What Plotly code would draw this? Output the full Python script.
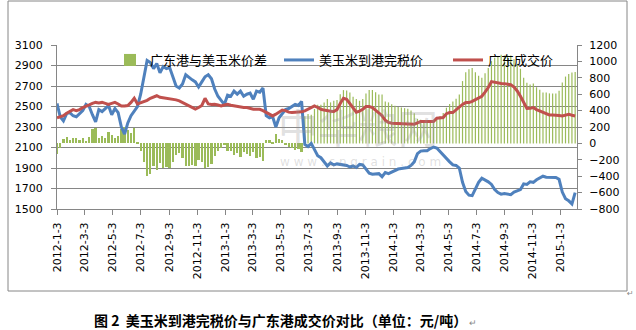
import pandas as pd
import plotly.graph_objects as go

# Weekly readings, first week 2012-01-03
us_corn = [
    2530, 2400, 2360, 2430, 2440, 2410, 2400, 2430, 2460, 2520,
    2500, 2420, 2350, 2470, 2450, 2480, 2510, 2420, 2480, 2440,
    2300, 2230, 2340, 2410, 2450, 2500, 2620, 2780, 2950, 2930,
    2870, 2920, 2830, 2890, 2870, 2880, 2800, 2700, 2680, 2720,
    2810, 2780, 2760, 2740, 2690, 2740, 2790, 2810, 2770, 2670,
    2600, 2560, 2520, 2610, 2600, 2650, 2620, 2650, 2600, 2620,
    2630, 2570, 2650, 2640, 2680, 2410, 2390, 2400, 2300, 2390,
    2430, 2470, 2480, 2500, 2520, 2510, 2550, 2130, 2110, 2140,
    2080, 2020, 2000, 1960, 1920, 1950, 1930, 1940, 1935, 1930,
    1925, 1910, 1920, 1905, 1935, 1930, 1890, 1850, 1840, 1840,
    1845, 1815, 1855, 1845, 1860, 1875, 1890, 1895, 1900, 1905,
    1925, 1960, 2040, 2065, 2068, 2068, 2090, 2105, 2095, 2060,
    2020, 1995, 1960, 1930, 1925, 1900, 1760, 1670, 1635, 1630,
    1700, 1760, 1800, 1785, 1765, 1740, 1690, 1660, 1645, 1650,
    1645, 1640, 1665, 1680, 1690, 1745, 1740, 1765, 1760, 1785,
    1800, 1820, 1810, 1808, 1808, 1808, 1790, 1665, 1600, 1580,
    1550, 1660,
]

guangdong = [
    2390, 2400, 2410, 2435, 2450, 2470, 2460, 2470, 2490, 2500,
    2515, 2530, 2540, 2535, 2540, 2530, 2520, 2530, 2540, 2525,
    2505, 2505, 2510, 2540, 2580, 2525, 2535, 2550, 2560, 2580,
    2595, 2605, 2590, 2585, 2580, 2578, 2572, 2565, 2555, 2540,
    2525, 2510, 2495, 2475, 2490, 2510, 2580, 2525, 2520, 2522,
    2515, 2506, 2515, 2522, 2512, 2506, 2498, 2490, 2490, 2490,
    2482, 2473, 2473, 2473, 2460, 2445, 2425, 2408, 2425, 2441,
    2465, 2460, 2445, 2441, 2441, 2441, 2448, 2457, 2475, 2490,
    2506, 2490, 2473, 2465, 2457, 2453, 2451, 2470, 2530, 2580,
    2570, 2530, 2490, 2445, 2455, 2473, 2500, 2500, 2490, 2465,
    2440, 2410, 2365, 2345, 2336, 2334, 2334, 2334, 2330, 2327,
    2327, 2327, 2340, 2353, 2353, 2353, 2353, 2353, 2386, 2390,
    2392, 2430, 2441, 2441, 2470, 2495, 2520, 2538, 2538, 2550,
    2568, 2585, 2600, 2640, 2685, 2743, 2735, 2727, 2725, 2723,
    2718, 2712, 2690, 2652, 2600, 2545, 2480, 2482, 2490, 2470,
    2455, 2441, 2430, 2418, 2418, 2418, 2412, 2408, 2415, 2425,
    2415, 2408,
]

spread = [
    -130, -60, 50, 80, 40, 60, 60, 40, 70, 30,
    80, 180, 190, 70, 90, 60, 140, 100, 60, 90,
    180, 200, 160, 130, 190, 20, -90, -230, -400, -370,
    -280, -320, -240, -300, -290, -300, -230, -140, -120, -180,
    -280, -270, -260, -270, -200, -230, -300, -290, -250, -150,
    -90, -60, -20, -90, -90, -140, -120, -160, -110, -130,
    -150, -100, -180, -170, -220, 40, 40, 10, 120, 50,
    40, -10, -40, -60, -80, -70, -100, 330, 360, 350,
    420, 470, 470, 500, 540, 500, 520, 530, 600, 650,
    645, 620, 570, 540, 520, 540, 610, 650, 650, 625,
    595, 595, 510, 500, 476, 459, 444, 439, 430, 422,
    402, 367, 300, 288, 285, 285, 263, 248, 291, 330,
    372, 435, 481, 511, 545, 595, 760, 868, 903, 920,
    868, 825, 800, 855, 920, 1003, 1045, 1067, 1080, 1073,
    1073, 1072, 1025, 972, 910, 800, 740, 717, 730, 685,
    655, 621, 620, 610, 610, 610, 642, 743, 815, 845,
    865, 870,
]

tick_dates = [
    "2012-01-03", "2012-03-03", "2012-05-03", "2012-07-03", "2012-09-03", "2012-11-03",
    "2013-01-03", "2013-03-03", "2013-05-03", "2013-07-03", "2013-09-03", "2013-11-03",
    "2014-01-03", "2014-03-03", "2014-05-03", "2014-07-03", "2014-09-03", "2014-11-03",
    "2015-01-03",
]
tick_labels = [
    "2012-1-3", "2012-3-3", "2012-5-3", "2012-7-3", "2012-9-3", "2012-11-3",
    "2013-1-3", "2013-3-3", "2013-5-3", "2013-7-3", "2013-9-3", "2013-11-3",
    "2014-1-3", "2014-3-3", "2014-5-3", "2014-7-3", "2014-9-3", "2014-11-3",
    "2015-1-3",
]

names = ["广东港与美玉米价差", "美玉米到港完税价", "广东成交价"]

weeks = pd.date_range("2012-01-03", periods=len(us_corn), freq="7D")

DAY = 86400000
switch = pd.Timestamp("2013-06-25")

# dense early bars as true bars; later sparse bars as thin vertical strokes
early_x = [d for d in weeks if d < switch]
early_y = [v for d, v in zip(weeks, spread) if d < switch]
late_x, late_y = [], []
for d, v in zip(weeks, spread):
    if d >= switch:
        late_x += [d, d, None]
        late_y += [0, v, None]

GREEN = "#9BBB59"
BLUE = "#4F81BD"
RED = "#C0504D"
AXIS = "#868686"
TICKFONT = dict(family="DejaVu Sans", size=11, color="#000000")

fig = go.Figure()
fig.add_trace(go.Bar(x=early_x, y=early_y, width=[5 * DAY] * len(early_x), name=names[0],
                     marker=dict(color=GREEN, line=dict(width=0)), yaxis="y"))
fig.add_trace(go.Scatter(x=late_x, y=late_y, mode="lines", showlegend=False,
                         line=dict(color=GREEN, width=1.2), yaxis="y", hoverinfo="skip"))
fig.add_trace(go.Scatter(x=weeks, y=us_corn, mode="lines", name=names[1],
                         line=dict(color=BLUE, width=3), yaxis="y2"))
fig.add_trace(go.Scatter(x=weeks, y=guangdong, mode="lines", name=names[2],
                         line=dict(color=RED, width=3), yaxis="y2"))

L, R, T, B = 57, 577, 45, 209
W, H = 636, 330


def px(x):
    return (x - L) / (R - L)


def py(y):
    return (B - y) / (B - T)


fig.update_layout(
    width=W, height=H, autosize=False,
    margin=dict(l=L, r=W - R, t=T, b=H - B, pad=0),
    paper_bgcolor="white", plot_bgcolor="white",
    bargap=0,
    showlegend=True,
    legend=dict(orientation="h", x=px(110), y=1.0, xanchor="left", yanchor="top",
                bgcolor="rgba(0,0,0,0)", borderwidth=0,
                entrywidth=124, entrywidthmode="pixels",
                font=dict(family="Noto Sans CJK SC", size=13, color="#000000"),
                traceorder="normal"),
    xaxis=dict(type="date", range=["2012-01-03", "2015-02-07"],
               tickmode="array", tickvals=tick_dates, ticktext=tick_labels,
               tickangle=-90, ticks="outside", ticklen=5, tickcolor=AXIS,
               showline=True, linecolor=AXIS, linewidth=1, showgrid=False,
               zeroline=False, tickfont=TICKFONT, ticklabelstandoff=3),
    yaxis=dict(side="right", range=[-800, 1200], dtick=200, tick0=-800,
               showgrid=False, zeroline=False, ticks="outside", ticklen=4,
               tickcolor=AXIS, showline=True, linecolor=AXIS, linewidth=1,
               tickfont=TICKFONT, ticklabelstandoff=5),
    yaxis2=dict(side="left", overlaying="y", range=[1500, 3100], dtick=200, tick0=1500,
                showgrid=True, gridcolor=AXIS, gridwidth=1, zeroline=False,
                ticks="outside", ticklen=5, tickcolor=AXIS, showline=True,
                linecolor=AXIS, linewidth=1, tickfont=TICKFONT, ticklabelstandoff=6),
)

# Outer chart frame
fig.add_shape(type="rect", xref="paper", yref="paper",
              x0=px(8), x1=px(627), y0=py(291), y1=py(1),
              line=dict(color=AXIS, width=1), fillcolor="rgba(0,0,0,0)", layer="below")

# Watermark
fig.add_annotation(text="中华粮网", xref="paper", yref="paper", x=px(358), y=py(126),
                   showarrow=False, xanchor="center", yanchor="middle",
                   font=dict(family="Noto Sans CJK SC", size=40, color="rgba(150,150,150,0.3)"))
fig.add_annotation(text="w w w . c n g r a i n . c o m", xref="paper", yref="paper",
                   x=px(360), y=py(162), showarrow=False, xanchor="center", yanchor="middle",
                   font=dict(family="DejaVu Sans", size=12, color="rgba(150,150,150,0.3)"))

# Caption
fig.add_annotation(text="<b>图 2  美玉米到港完税价与广东港成交价对比（单位：元/吨）</b>"
                        "<span style='font-size:9px;color:#888888'> ↵</span>",
                   xref="paper", yref="paper", x=px(92), y=py(320), showarrow=False,
                   xanchor="left", yanchor="middle",
                   font=dict(family="Noto Sans CJK SC", size=14, color="#000000"))
fig.add_annotation(text="↵", xref="paper", yref="paper", x=px(630), y=py(293),
                   showarrow=False, xanchor="center", yanchor="middle",
                   font=dict(family="DejaVu Sans", size=8, color="#888888"))

fig.write_html("out.html")
